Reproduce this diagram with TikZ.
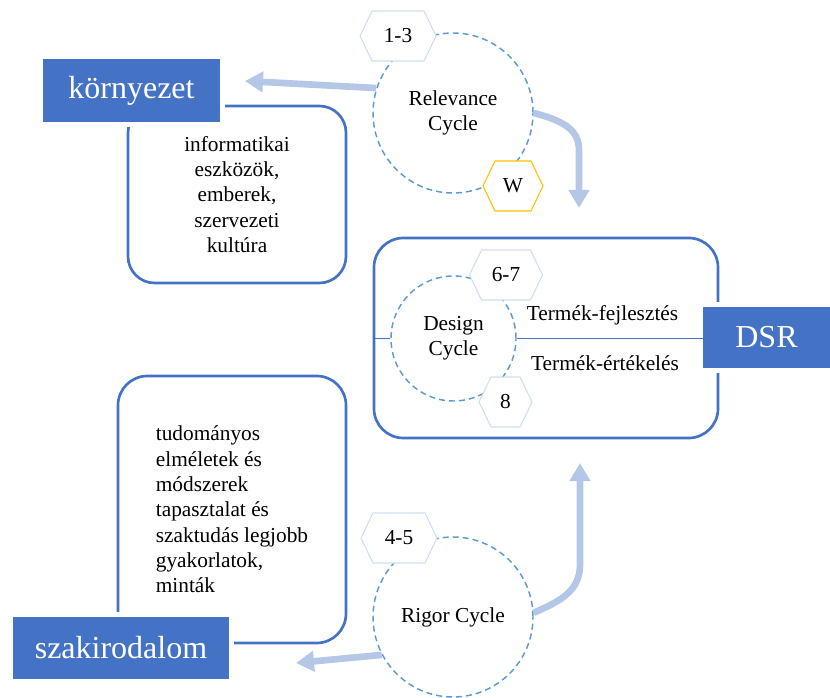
\documentclass[tikz,border=0pt]{standalone}
\usepackage{fontspec}
\setmainfont{Liberation Serif}
\usetikzlibrary{arrows.meta}

\definecolor{accent}{HTML}{4472C4}
\definecolor{cycleline}{HTML}{5B9BD5}
\definecolor{hexline}{HTML}{D0DEF3}
\definecolor{flow}{HTML}{B4C7E7}
\definecolor{gold}{HTML}{FFC000}

\tikzset{
  smalltext/.style={font=\fontsize{16}{19}\selectfont, align=center, inner sep=0pt},
  bigbox/.style={rectangle, fill=accent, text=white, inner sep=0pt,
    font=\fontsize{24}{28}\selectfont,
    preaction={draw=white, line width=7.5pt}},
  cyclering/.style={circle, draw=cycleline, line width=1.1pt,
    dash pattern=on 4.5pt off 3pt, inner sep=0pt, align=center,
    font=\fontsize{16}{19}\selectfont},
  framebox/.style={rectangle, rounded corners=20pt, draw=accent, line width=2pt,
    align=center, inner sep=0pt, font=\fontsize{16}{19}\selectfont},
  flowarrow/.style={draw=flow, line width=5pt, -{Triangle[width=15pt,length=13.5pt]}},
  linkline/.style={draw=accent, line width=1.2pt},
}

% hexagon badge: name, x, y, half width, outline colour, text
\newcommand\hexnode[6]{%
  \draw[draw=#5, fill=white, line width=0.8pt]
    ({#2-#4},#3) -- ({#2-#4+12},{#3-25}) -- ({#2+#4-12},{#3-25}) --
    ({#2+#4},#3) -- ({#2+#4-12},{#3+25}) -- ({#2-#4+12},{#3+25}) -- cycle;
  \node[smalltext] (#1) at (#2,#3) {#6};
}

\begin{document}
\begin{tikzpicture}[x=0.75pt,y=-0.75pt]
\useasboundingbox (0,0) rectangle (830,698);

% framed content boxes
\node[framebox, minimum width=163.5pt, minimum height=132.75pt] (envbox) at (237,194.5)
  {informatikai\\eszközök,\\emberek,\\szervezeti\\kultúra};
\node[framebox, rounded corners=22pt, minimum width=171pt, minimum height=200.25pt, align=left] (litbox) at (232,509.5)
  {tudományos\\elméletek és\\módszerek\\tapasztalat és\\szaktudás legjobb\\gyakorlatok,\\minták};
\node[framebox, rounded corners=22pt, minimum width=258pt, minimum height=150pt] (dsrbox) at (546,338) {};

% the three cycles
\node[cyclering, minimum size=120pt] (rel) at (453,113) {Relevance\\Cycle};
\node[cyclering, minimum size=93.75pt] (des) at (453.5,338.5) {Design\\Cycle};
\node[cyclering, minimum size=120pt] (rig) at (453,617) {Rigor Cycle};

% hexagon badges
\hexnode{h13}{398}{36}{38}{hexline}{1-3}
\hexnode{hw}{513}{186}{30}{gold}{W}
\hexnode{h67}{506}{275}{36.5}{hexline}{6-7}
\hexnode{h8}{505.5}{402}{26.5}{hexline}{8}
\hexnode{h45}{399}{538}{38}{hexline}{4-5}

% filled title boxes
\node[bigbox, minimum width=132.75pt, minimum height=47.25pt] (env) at (131.5,90.5) {környezet};
\node[bigbox, minimum width=162pt, minimum height=46.5pt] (lit) at (121,648) {szakirodalom};
\node[bigbox, minimum width=95.25pt, minimum height=45.75pt] (dsr) at (766.5,337.5) {DSR};

% product labels
\node[smalltext] (dev) at (602.5,315) {Termék-fejlesztés};
\node[smalltext] (eval) at (605,363) {Termék-értékelés};

% design axis
\draw[linkline] (dsrbox.west |- des.west) -- (des.west);
\draw[linkline] (des.east) -- (dsr.west |- des.east);

% flow arrows
\coordinate (tipEnv) at (245,81);
\coordinate (tipDsrTop) at (579,208);
\coordinate (tipDsrBot) at (580,463);
\coordinate (tipLit) at (296,663);
\draw[flowarrow] (rel.162) -- (tipEnv);
\draw[flowarrow] (rel.east) .. controls (560,120) and (579,128) .. (579,150) -- (tipDsrTop);
\draw[flowarrow] (rig.3) .. controls (558,602) and (580,592) .. (580,565) -- (tipDsrBot);
\draw[flowarrow] (rig.208) -- (tipLit);
\end{tikzpicture}
\end{document}
